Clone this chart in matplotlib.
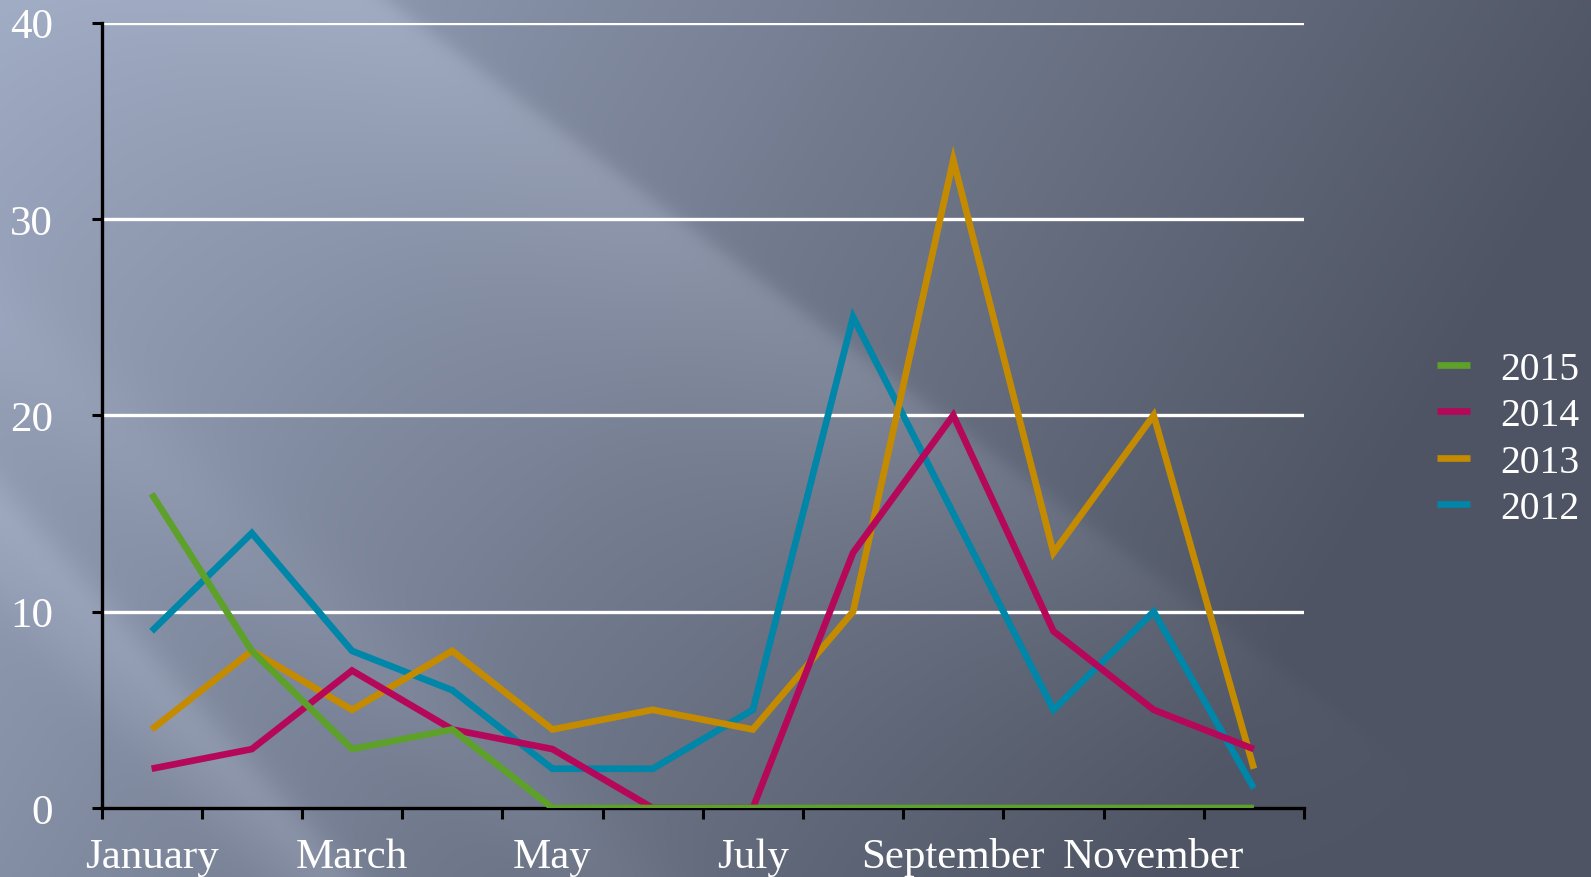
import numpy as np
import matplotlib
matplotlib.use("Agg")
import matplotlib.pyplot as plt
from matplotlib.ticker import FixedLocator, NullFormatter

# ---- data ----
months = ["January", "February", "March", "April", "May", "June", "July",
          "August", "September", "October", "November", "December"]
series_names = ["2015", "2014", "2013", "2012"]
v2015 = [16, 8, 3, 4, 0, 0, 0, 0, 0, 0, 0, 0]
v2014 = [2, 3, 7, 4, 3, 0, 0, 13, 20, 9, 5, 3]
v2013 = [4, 8, 5, 8, 4, 5, 4, 10, 33, 13, 20, 2]
v2012 = [9, 14, 8, 6, 2, 2, 5, 25, 15, 5, 10, 1]
colors = {"2015": "#5DA12A", "2014": "#B5085B", "2013": "#C48B00", "2012": "#0086A8"}
yticks = [0, 10, 20, 30, 40]

W, H = 1591, 878
fig = plt.figure(figsize=(W / 100, H / 100), dpi=100)

# ---- background ----
bg = fig.add_axes([0, 0, 1, 1], zorder=0)
yy, xx = np.mgrid[0:H, 0:W].astype(float)
t = np.clip(0.80 * xx / 1400 + 0.30 * yy / H + 0.04, 0, 1)
c1 = np.array([160, 172, 197]) / 255
c2 = np.array([78, 84, 99]) / 255
img = c1[None, None, :] * (1 - t[..., None]) + c2[None, None, :] * t[..., None]

def perp(x0, y0, slope):
    ang = np.arctan(slope)
    d = (yy - y0) * np.cos(ang) - (xx - x0) * np.sin(ang)   # >0 : below-left
    s = (xx - x0) * np.cos(ang) + (yy - y0) * np.sin(ang)   # along the line
    return d, s

# broad light wedge with a sharp upper-right edge
d, s = perp(386, 0, 0.75)
edge = 1 / (1 + np.exp(-d / 5))
wedge = 0.085 * edge * np.exp(-(np.clip(d, 0, None) / 170) ** 1.5)
wedge *= np.clip(1 - (s - 600) / 750, 0, 1) ** 1.2
img += wedge[..., None]

# softer streaks lower-left
for (x0, y0, sl, w, a) in [(0, 560, 1.05, 35, 0.04), (120, 640, 1.1, 22, 0.04),
                           (0, 330, 0.9, 50, 0.025)]:
    d2, s2 = perp(x0, y0, sl)
    img += (a * np.exp(-(d2 / w) ** 2))[..., None]
img = np.clip(img, 0, 1)
bg.imshow(img, aspect="auto", extent=[0, W, H, 0])
bg.axis("off")

# ---- main axes ----
plt.rcParams['font.family'] = ['Liberation Serif', 'DejaVu Serif']
ax = fig.add_axes([101.5 / W, 1 - 809 / H, (1304 - 101.5) / W, (809 - 23.5) / H], zorder=1)
ax.patch.set_alpha(0)
x = np.arange(len(months))
data = {"2015": v2015, "2014": v2014, "2013": v2013, "2012": v2012}
lines = {}
for i, name in enumerate(["2012", "2013", "2014", "2015"]):
    lines[name], = ax.plot(x, data[name], color=colors[name], lw=4.8,
                           solid_joinstyle="miter", solid_capstyle="butt",
                           zorder=3 + i, label=name)

ax.set_xlim(-0.5, 11.5)
ax.set_ylim(0, 40)
for yv in yticks[1:]:
    ax.axhline(yv, color="white", lw=2.4, zorder=1)

ax.xaxis.set_major_locator(FixedLocator(np.arange(-0.5, 12, 1)))
ax.xaxis.set_major_formatter(NullFormatter())
ax.xaxis.set_minor_locator(FixedLocator(x[::2]))
ax.set_xticklabels(months[::2], minor=True)
ax.tick_params(axis="x", which="major", direction="out", length=8, width=2.2, color="black")
ax.tick_params(axis="x", which="minor", length=0, pad=21, labelsize=31, labelcolor="white")
ax.set_yticks(yticks)
ax.tick_params(axis="y", direction="out", length=7, width=2.2, color="black",
               pad=28, labelsize=31, labelcolor="white")
for sp in ["top", "right"]:
    ax.spines[sp].set_visible(False)
for sp in ["left", "bottom"]:
    ax.spines[sp].set_color("black")
    ax.spines[sp].set_linewidth(2.4)

handles = [lines[n] for n in series_names]
leg = fig.legend(handles, series_names, loc="center left",
                 bbox_to_anchor=(1437 / W, 1 - 440 / H), frameon=False,
                 fontsize=28.5, handlelength=0.83, handletextpad=0.76,
                 labelspacing=0.24, borderpad=0, borderaxespad=0)
for txt in leg.get_texts():
    txt.set_color("white")

fig.savefig("out.png", dpi=100)
